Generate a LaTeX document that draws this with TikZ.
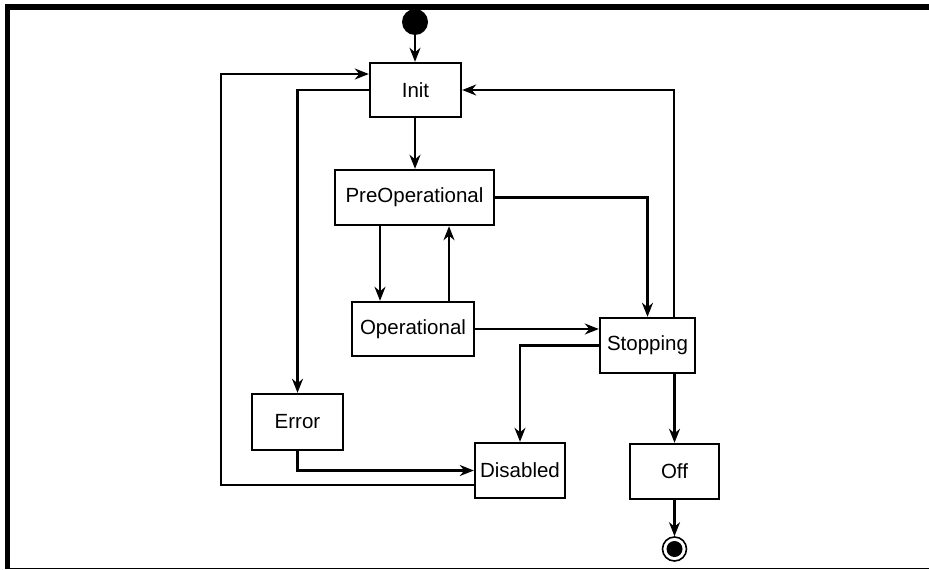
\documentclass[tikz,border=0pt]{standalone}
\usepackage{fontspec}
\setmainfont{Liberation Sans}
\usetikzlibrary{arrows.meta}
\begin{document}
\begin{tikzpicture}[x=1pt,y=-1pt,
  state/.style={draw,line width=2.4pt,inner sep=0pt,font=\fontsize{20.5}{24}\selectfont,anchor=center},
  arr/.style={line width=2.3pt,-{Stealth[length=14pt,width=11pt,inset=4.5pt]}},
  ln/.style={line width=2.3pt}]
\useasboundingbox (0,0) rectangle (929,570);
\fill[white] (0,0) rectangle (929,570);
% frame
\draw[line width=6pt] (5,7) -- (929,7);
\draw[line width=5pt] (7.5,4) -- (7.5,569);
\draw[line width=1.5pt] (5,568.5) -- (929,568.5);
% nodes
\node[circle,fill=black,minimum size=26pt,inner sep=0pt] (start) at (415,22) {};
\node[state,minimum width=91pt,minimum height=54pt] (init) at (415.5,90) {Init};
\node[state,minimum width=159pt,minimum height=55pt] (preop) at (414.5,197.5) {PreOperational};
\node[state,minimum width=122pt,minimum height=54pt] (op) at (413,329) {Operational};
\node[state,minimum width=95pt,minimum height=55pt] (stop) at (647.5,345.5) {Stopping};
\node[state,minimum width=91pt,minimum height=56pt] (err) at (297.5,422) {Error};
\node[state,minimum width=90pt,minimum height=55pt] (dis) at (520,470.5) {Disabled};
\node[state,minimum width=89pt,minimum height=55pt] (off) at (674.5,471.5) {Off};
\node[circle,draw,line width=1.6pt,minimum size=24pt,inner sep=0pt] (end) at (674.5,549) {};
\fill (end.center) circle (8pt);
% connectors
\draw[arr] (start.south) -- (start.south |- init.north);
\draw[arr] (init.south -| 415,0) -- (preop.north -| 415,0);
\draw[arr] (preop.south -| 380,0) -- (op.north -| 380,0);
\draw[arr] (op.north -| 449,0) -- (preop.south -| 449,0);
\draw[arr] (preop.east) -| (stop.north);
\draw[arr] (op.east) -- (stop.west |- op.east);
\draw[arr] (stop.north -| 674,0) |- (init.east);
\draw[arr] (stop.west) -| (dis.north);
\draw[arr] (stop.south -| off.north) -- (off.north);
\draw[arr] (off.south) -- (end.north);
\draw[arr] (init.west) -| (err.north);
\draw[arr] (err.south) |- (dis.west);
\coordinate (loop) at (221,74);
\draw[arr] (dis.west |- 0,485) -| (loop) -- (init.west |- loop);
\end{tikzpicture}
\end{document}
